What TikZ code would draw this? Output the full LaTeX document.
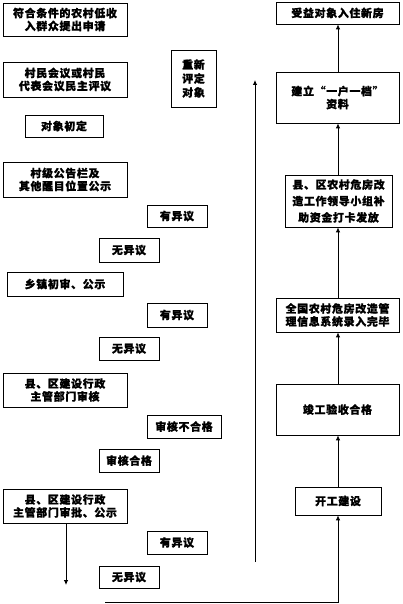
\documentclass[tikz,border=0pt]{standalone}
\usepackage{fontspec}
\setmainfont{Noto Sans CJK SC}[LetterSpace=6, BoldFeatures={FakeBold=1}]
\usetikzlibrary{arrows.meta}
\newcommand{\bx}[6][13pt]{%
  \node[boxst, minimum width={(#4-#2)*1bp}, minimum height={(#5-#3)*1bp}, font={\fontsize{11pt}{#1}\selectfont\bfseries}]
    (#6) at ({(#2+#4)/2},{(#3+#5)/2})}
\begin{document}
\begin{tikzpicture}[x=1bp,y=-1bp,
  boxst/.style={draw, line width=0.8pt, inner sep=0pt, align=center},
  conn/.style={line width=0.8pt},
  arr/.style={conn, -{Latex[length=5pt,width=4.5pt]}}]
\useasboundingbox (0,0) rectangle (402,604);
% left column
\bx{3}{3}{127}{36}{b1} {符合条件的农村低收\\入群众提出申请};
\bx{3}{62}{127}{97}{b2} {村民会议或村民\\代表会议民主评议};
\bx{25}{115}{103}{137}{b3} {对象初定};
\bx{3}{162}{127}{197}{b4} {村级公告栏及\\其他醒目位置公示};
\bx[14pt]{171}{50}{216}{107}{rp} {重新\\评定\\对象};
\bx{147}{205}{207}{227}{y1} {有异议};
\bx{99}{238}{159}{262}{w1} {无异议};
\bx{7}{272}{123}{296}{b5} {乡镇初审、公示};
\bx{147}{303}{207}{327}{y2} {有异议};
\bx{99}{337}{159}{360}{w2} {无异议};
\bx{3}{373}{127}{407}{b6} {县、区建设行政\\主管部门审核};
\bx{147}{415}{221}{438}{nq} {审核不合格};
\bx{99}{449}{159}{472}{hq} {审核合格};
\bx{3}{489}{127}{523}{b7} {县、区建设行政\\主管部门审批、公示};
\bx{147}{531}{207}{554}{y3} {有异议};
\bx{99}{566}{159}{588}{w3} {无异议};
% right column
\bx{276}{2}{399}{24}{R1} {受益对象入住新房};
\bx{276}{72}{399}{123}{R2} {建立“一户一档”\\资料};
\bx[16.5pt]{285}{175}{392}{227}{R3} {县、区农村危房改\\造工作领导小组补\\助资金打卡发放};
\bx{276}{298}{399}{332}{R4} {全国农村危房改造管\\理信息系统录入完毕};
\bx{276}{384}{399}{435}{R5} {竣工验收合格};
\bx{295}{487}{381}{515}{R6} {开工建设};
% coordinates
\coordinate (dwn) at (66,585);
\coordinate (lt) at (255,80);
\coordinate (lb) at (255,562);
\coordinate (bl) at (105,602);
\coordinate (br) at (338,602);
% connectors
\draw[arr] (b7.south -| dwn) -- (dwn);
\draw[arr] (lb) -- (lt);
\draw[arr] (bl) -- (br) -- (R6.south -| br);
\draw[arr] (R6.north -| br) -- (R5.south -| br);
\draw[arr] (R5.north -| br) -- (R4.south -| br);
\draw[arr] (R4.north -| br) -- (R3.south -| br);
\draw[arr] (R3.north -| br) -- (R2.south -| br);
\draw[arr] (R2.north -| br) -- (R1.south -| br);
\end{tikzpicture}
\end{document}
